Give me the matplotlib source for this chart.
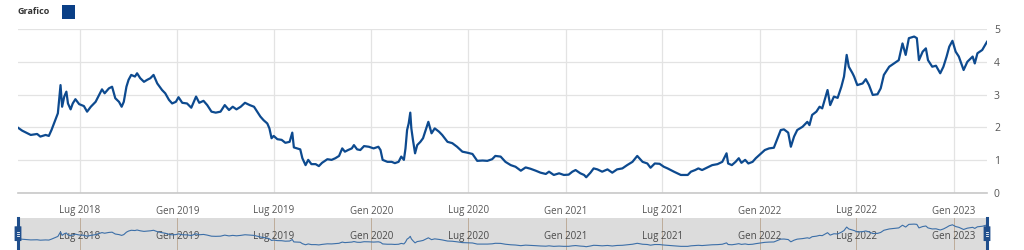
import matplotlib
matplotlib.use("Agg")
import matplotlib.pyplot as plt
import matplotlib.dates as mdates
from matplotlib.patches import Rectangle, FancyBboxPatch
import pandas as pd
import numpy as np

plt.rcParams['font.family'] = ['Open Sans', 'DejaVu Sans']

dates = [
    "2018-03-07", "2018-03-15", "2018-03-31", "2018-04-12", "2018-04-18", "2018-04-28",
    "2018-05-04", "2018-05-09", "2018-05-16", "2018-05-21", "2018-05-26", "2018-05-29",
    "2018-06-02", "2018-06-06", "2018-06-09", "2018-06-14", "2018-06-18", "2018-06-23",
    "2018-06-30", "2018-07-09", "2018-07-15", "2018-07-22", "2018-07-31", "2018-08-05",
    "2018-08-12", "2018-08-17", "2018-08-25", "2018-08-31", "2018-09-06", "2018-09-13",
    "2018-09-18", "2018-09-22", "2018-09-27", "2018-10-01", "2018-10-06", "2018-10-13",
    "2018-10-17", "2018-10-23", "2018-10-30", "2018-11-05", "2018-11-11", "2018-11-17",
    "2018-11-24", "2018-12-03", "2018-12-09", "2018-12-16", "2018-12-22", "2018-12-29",
    "2019-01-03", "2019-01-10", "2019-01-19", "2019-01-27", "2019-02-05", "2019-02-11",
    "2019-02-19", "2019-02-26", "2019-03-06", "2019-03-14", "2019-03-23", "2019-03-31",
    "2019-04-08", "2019-04-15", "2019-04-22", "2019-04-30", "2019-05-08", "2019-05-17",
    "2019-05-25", "2019-05-31", "2019-06-06", "2019-06-12", "2019-06-19", "2019-06-23",
    "2019-06-27", "2019-07-01", "2019-07-08", "2019-07-16", "2019-07-23", "2019-07-31",
    "2019-08-05", "2019-08-08", "2019-08-14", "2019-08-20", "2019-08-24", "2019-08-30",
    "2019-09-04", "2019-09-10", "2019-09-18", "2019-09-24", "2019-09-30", "2019-10-10",
    "2019-10-18", "2019-10-25", "2019-11-01", "2019-11-07", "2019-11-12", "2019-11-18",
    "2019-11-25", "2019-11-29", "2019-12-05", "2019-12-11", "2019-12-18", "2019-12-27",
    "2020-01-05", "2020-01-14", "2020-01-18", "2020-01-22", "2020-01-31", "2020-02-08",
    "2020-02-14", "2020-02-21", "2020-02-26", "2020-03-02", "2020-03-05", "2020-03-08",
    "2020-03-11", "2020-03-14", "2020-03-16", "2020-03-19", "2020-03-23", "2020-03-27",
    "2020-04-02", "2020-04-07", "2020-04-11", "2020-04-17", "2020-04-23", "2020-04-29",
    "2020-05-07", "2020-05-13", "2020-05-23", "2020-06-01", "2020-06-10", "2020-06-20",
    "2020-06-29", "2020-07-09", "2020-07-18", "2020-07-28", "2020-08-06", "2020-08-15",
    "2020-08-21", "2020-08-31", "2020-09-09", "2020-09-19", "2020-09-28", "2020-10-08",
    "2020-10-17", "2020-10-26", "2020-11-05", "2020-11-14", "2020-11-24", "2020-11-30",
    "2020-12-09", "2020-12-19", "2020-12-28", "2021-01-06", "2021-01-13", "2021-01-19",
    "2021-01-28", "2021-02-04", "2021-02-08", "2021-02-16", "2021-02-22", "2021-03-01",
    "2021-03-10", "2021-03-20", "2021-03-29", "2021-04-07", "2021-04-17", "2021-04-26",
    "2021-05-06", "2021-05-15", "2021-05-25", "2021-06-03", "2021-06-09", "2021-06-17",
    "2021-06-26", "2021-07-04", "2021-07-11", "2021-07-23", "2021-08-05", "2021-08-18",
    "2021-08-24", "2021-09-01", "2021-09-07", "2021-09-14", "2021-09-24", "2021-10-03",
    "2021-10-13", "2021-10-22", "2021-10-30", "2021-11-02", "2021-11-09", "2021-11-16",
    "2021-11-22", "2021-11-27", "2021-12-04", "2021-12-10", "2021-12-18", "2021-12-24",
    "2022-01-02", "2022-01-10", "2022-01-18", "2022-01-27", "2022-02-03", "2022-02-09",
    "2022-02-15", "2022-02-23", "2022-02-28", "2022-03-06", "2022-03-12", "2022-03-22",
    "2022-03-31", "2022-04-04", "2022-04-09", "2022-04-17", "2022-04-23", "2022-04-28",
    "2022-05-08", "2022-05-13", "2022-05-20", "2022-05-27", "2022-06-03", "2022-06-08",
    "2022-06-13", "2022-06-17", "2022-06-24", "2022-06-27", "2022-07-03", "2022-07-13",
    "2022-07-19", "2022-07-25", "2022-08-01", "2022-08-10", "2022-08-16", "2022-08-22",
    "2022-09-01", "2022-09-10", "2022-09-19", "2022-09-26", "2022-10-02", "2022-10-08",
    "2022-10-18", "2022-10-23", "2022-10-27", "2022-11-03", "2022-11-09", "2022-11-13",
    "2022-11-21", "2022-11-28", "2022-12-06", "2022-12-12", "2022-12-18", "2022-12-23",
    "2022-12-29", "2023-01-04", "2023-01-10", "2023-01-19", "2023-01-26", "2023-02-05",
    "2023-02-09", "2023-02-14", "2023-02-23", "2023-03-04",
]

values = [
    1.99, 1.90, 1.77, 1.80, 1.72, 1.77,
    1.74, 1.92, 2.22, 2.43, 3.29, 2.63,
    2.94, 3.09, 2.73, 2.55, 2.73, 2.86,
    2.71, 2.65, 2.48, 2.63, 2.78, 2.94,
    3.16, 3.04, 3.19, 3.24, 2.89, 2.78,
    2.63, 2.78, 3.24, 3.45, 3.60, 3.55,
    3.65, 3.50, 3.39, 3.45, 3.50, 3.60,
    3.34, 3.14, 3.04, 2.84, 2.73, 2.78,
    2.92, 2.75, 2.73, 2.60, 2.94, 2.75,
    2.81, 2.68, 2.48, 2.45, 2.48, 2.68,
    2.53, 2.63, 2.55, 2.63, 2.75, 2.68,
    2.63, 2.48, 2.33, 2.22, 2.12, 1.97,
    1.67, 1.74, 1.64, 1.62, 1.53, 1.56,
    1.84, 1.39, 1.36, 1.33, 1.06, 0.85,
    1.01, 0.88, 0.88, 0.82, 0.92, 1.03,
    1.01, 1.06, 1.13, 1.36, 1.26, 1.31,
    1.36, 1.46, 1.33, 1.31, 1.43, 1.41,
    1.36, 1.41, 1.31, 1.01, 0.95, 0.95,
    0.91, 0.95, 1.11, 1.01, 1.36, 1.92,
    2.12, 2.45, 1.97, 1.62, 1.21, 1.46,
    1.56, 1.67, 1.87, 2.17, 1.82, 1.97,
    1.87, 1.77, 1.56, 1.52, 1.41, 1.26,
    1.23, 1.19, 0.98, 0.99, 0.98, 1.03,
    1.13, 1.11, 0.95, 0.85, 0.80, 0.68,
    0.78, 0.74, 0.68, 0.62, 0.58, 0.65,
    0.55, 0.60, 0.55, 0.56, 0.65, 0.70,
    0.60, 0.55, 0.48, 0.62, 0.75, 0.72,
    0.65, 0.72, 0.62, 0.72, 0.75, 0.85,
    0.95, 1.13, 0.95, 0.90, 0.77, 0.90,
    0.89, 0.80, 0.75, 0.65, 0.55, 0.55,
    0.65, 0.70, 0.75, 0.70, 0.78, 0.85,
    0.88, 0.95, 1.21, 0.90, 0.85, 0.95,
    1.06, 0.92, 1.01, 0.90, 0.95, 1.06,
    1.19, 1.31, 1.36, 1.38, 1.67, 1.92,
    1.94, 1.84, 1.41, 1.72, 1.92, 2.02,
    2.17, 2.07, 2.38, 2.48, 2.63, 2.58,
    3.14, 2.68, 2.94, 2.90, 3.24, 3.55,
    4.21, 3.85, 3.65, 3.55, 3.29, 3.34,
    3.47, 3.29, 2.99, 3.01, 3.19, 3.60,
    3.85, 3.95, 4.05, 4.56, 4.21, 4.72,
    4.77, 4.72, 4.05, 4.31, 4.41, 4.05,
    3.85, 3.88, 3.65, 3.85, 4.16, 4.46,
    4.64, 4.31, 4.16, 3.75, 4.00, 4.16,
    3.95, 4.26, 4.36, 4.61,
]

tick_dates = ["2018-07-01", "2019-01-01", "2019-07-01", "2020-01-01", "2020-07-01",
              "2021-01-01", "2021-07-01", "2022-01-01", "2022-07-01", "2023-01-01"]
tick_labels = ["Lug 2018", "Gen 2019", "Lug 2019", "Gen 2020", "Lug 2020",
               "Gen 2021", "Lug 2021", "Gen 2022", "Lug 2022", "Gen 2023"]
y_ticks = [0, 1, 2, 3, 4, 5]
legend_label = "Grafico"

x = pd.to_datetime(dates)
y = np.array(values)
tx = pd.to_datetime(tick_dates)

W, H = 1024, 250
fig = plt.figure(figsize=(W / 100, H / 100), dpi=100)

LINE = '#0d4a8f'
GRID = '#e3e3e3'
TXT = '#555555'

left = 18 / W
width = (987 - 18) / W
ax = fig.add_axes([left, 1 - 193 / H, width, (193 - 29) / H])
ax.plot(x, y, color=LINE, lw=1.6, solid_joinstyle='round')
ax.set_xlim(x[0], x[-1])
ax.set_ylim(0, 5)
ax.set_xticks(tx)
ax.set_xticklabels(tick_labels)
ax.set_yticks(y_ticks)
ax.yaxis.tick_right()
ax.tick_params(axis='x', length=0, pad=9, labelsize=7, labelcolor=TXT)
ax.tick_params(axis='y', length=0, pad=5, labelsize=7.5, labelcolor=TXT)
for lbl in ax.get_yticklabels():
    lbl.set_horizontalalignment('left')
ax.grid(True, color=GRID, lw=0.9)
for s in ['top', 'left', 'right']:
    ax.spines[s].set_visible(False)
ax.spines['bottom'].set_color('#c8c8c8')
ax.spines['bottom'].set_linewidth(1.2)
ax.set_axisbelow(True)

# navigator
nav = fig.add_axes([left, 0, width, (250 - 218) / H])
nav.set_facecolor('#dcdcdc')
nav.plot(x, y, color='#3c6fa8', lw=0.8)
nav.set_xlim(x[0], x[-1])
lo, hi = y.min(), y.max()
span = hi - lo
nav.set_ylim(lo - 0.145 * span, hi + 0.27 * span)
nav.set_xticks(tx)
nav.set_xticklabels(tick_labels)
nav.set_yticks([])
nav.tick_params(axis='x', direction='in', length=0, pad=-14, labelsize=7, labelcolor='#4a4a4a')
nav.grid(True, axis='x', color='#b9a48f', lw=0.6)
for s in nav.spines.values():
    s.set_visible(False)

# navigator handles
for hx in (0.0, 1.0):
    nav.plot([hx, hx], [0, 1], transform=nav.transAxes, color='#1f4e8c', lw=2.2, clip_on=False)
    hb = FancyBboxPatch((hx - 0.0028, 0.3), 0.0056, 0.42, boxstyle='round,pad=0.0,rounding_size=0.002',
                        transform=nav.transAxes, facecolor='#1f4e8c', edgecolor='#1f4e8c',
                        clip_on=False, zorder=5)
    nav.add_patch(hb)
    for yy in (0.45, 0.51, 0.57):
        nav.plot([hx - 0.0013, hx + 0.0013], [yy, yy], transform=nav.transAxes,
                 color='white', lw=0.6, clip_on=False, zorder=6)

# legend
fig.text(18 / W, 1 - 12 / H, legend_label, fontsize=6.5, fontweight='bold', color='#333333',
         va='center', ha='left')
fig.patches.append(Rectangle((62 / W, 1 - 19 / H), 13 / W, 14 / H, transform=fig.transFigure,
                             facecolor='#0a3f86', edgecolor='none'))

fig.savefig('out.png', dpi=100)
